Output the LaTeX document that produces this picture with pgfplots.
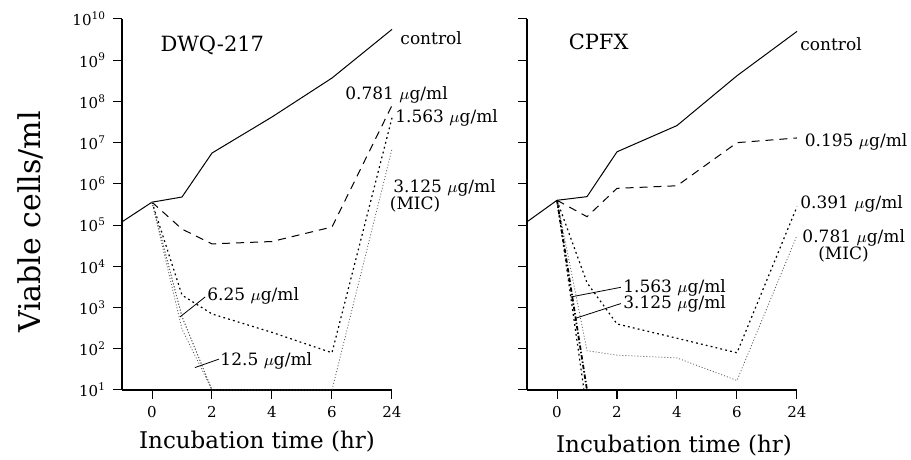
\documentclass[border=0pt]{standalone}
\usepackage{fontspec}
\setmainfont{DejaVu Serif}
\usepackage{pgfplots}
\pgfplotsset{compat=1.18}

\newcommand{\ug}{$\mu$g/ml}
\tikzset{
  lab/.style={font=\fontsize{8.5}{10}\selectfont, anchor=west, inner sep=0pt},
  mic/.style={font=\fontsize{8.5}{10}\selectfont, inner sep=0pt},
  ttl/.style={font=\fontsize{10.5}{12}\selectfont, anchor=west, inner sep=0pt},
  ctrl/.style={solid},
  dsh/.style={dash pattern=on 4pt off 3pt},
  dotd/.style={dash pattern=on 0.9pt off 1.6pt, line width=0.6pt},
  fine/.style={dash pattern=on 0.5pt off 1pt, line width=0.4pt, black!65},
  dd/.style={dash pattern=on 2.2pt off 1pt on 0.7pt off 1pt, line width=0.9pt},
}

\begin{document}
\begin{tikzpicture}
\useasboundingbox (0,0) rectangle (455.5pt,230pt);

% DWQ-217
\begin{axis}[at={(61pt,35pt)}, anchor=south west,
    scale only axis, width=135pt, height=185.5pt,
    ymode=log, ymin=10, ymax=1e10, xmin=-1, xmax=8,
    axis lines=left, axis line style={-, line width=0.6pt},
    tick align=outside, major tick length=4.5pt,
    tick style={black, line width=0.5pt},
    xtick={0,2,4,6,8}, xticklabels={0,2,4,6,24},
    ytick={1e1,1e2,1e3,1e4,1e5,1e6,1e7,1e8,1e9,1e10},
    yminorticks=false,
    ticklabel style={font=\fontsize{7.5}{9}\selectfont},
    xlabel={Incubation time (hr)},
    xlabel style={font=\fontsize{11.5}{13}\selectfont, at={(axis description cs:0.5,0)}, anchor=center, yshift=-26pt},
    clip=false,
    every axis plot/.append style={black, line width=0.5pt},
  yticklabels={10\textsuperscript{1},10\textsuperscript{2},10\textsuperscript{3},10\textsuperscript{4},10\textsuperscript{5},10\textsuperscript{6},10\textsuperscript{7},10\textsuperscript{8},10\textsuperscript{9},10\textsuperscript{10}}]
\addplot[ctrl] coordinates {(-1,1.2e5) (0,3.6e5) (1,4.8e5) (2,5.6e6) (4,4.2e7) (6,3.7e8) (8,5.6e9)};
\addplot[dsh] coordinates {(0,3.6e5) (1,8e4) (2,3.5e4) (4,4e4) (6,9e4) (8,8e7)};
\addplot[dotd] coordinates {(0,3.6e5) (1,2e3) (2,7e2) (4,2.5e2) (6,8e1) (8,4e7)};
\addplot[fine] coordinates {(0,3.6e5) (1,6e2) (2,10) (4,10) (6,10) (8,7e6)};
\addplot[fine] coordinates {(0,3.6e5) (1,6e2) (2,10)};
\addplot[fine] coordinates {(0,3.6e5) (1,3e2) (2,10)};

\node[ttl] at (axis cs:0.27,2.3e9) {DWQ-217};
\node[lab] at (axis cs:8.27,3.5e9) {control};
\node[lab] at (axis cs:6.43,1.45e8) {0.781 \ug};
\node[lab] at (axis cs:8.1,4e7) {1.563 \ug};
\node[lab] at (axis cs:8.03,7.9e5) {3.125 \ug};
\node[mic] at (axis cs:8.77,3.1e5) {(MIC)};
\node[lab] at (axis cs:1.83,1.9e3) {6.25 \ug};
\node[lab] at (axis cs:2.27,52) {12.5 \ug};
\draw[line width=0.4pt] (axis cs:0.93,5.9e2) -- (axis cs:1.77,1.8e3);
\draw[line width=0.4pt] (axis cs:1.43,35) -- (axis cs:2.23,56);
\end{axis}

% CPFX
\begin{axis}[at={(263.5pt,35pt)}, anchor=south west,
    scale only axis, width=135pt, height=185.5pt,
    ymode=log, ymin=10, ymax=1e10, xmin=-1, xmax=8,
    axis lines=left, axis line style={-, line width=0.6pt},
    tick align=outside, major tick length=4.5pt,
    tick style={black, line width=0.5pt},
    xtick={0,2,4,6,8}, xticklabels={0,2,4,6,24},
    ytick={1e1,1e2,1e3,1e4,1e5,1e6,1e7,1e8,1e9,1e10},
    yminorticks=false,
    ticklabel style={font=\fontsize{7.5}{9}\selectfont},
    xlabel={Incubation time (hr)},
    xlabel style={font=\fontsize{11.5}{13}\selectfont, at={(axis description cs:0.5,0)}, anchor=center, yshift=-28pt, xshift=6pt},
    clip=false,
    every axis plot/.append style={black, line width=0.5pt},
    yticklabels={}]
\addplot[ctrl] coordinates {(-1,1.2e5) (0,4e5) (1,4.9e5) (2,6e6) (4,2.6e7) (6,4.2e8) (8,5e9)};
\addplot[dsh] coordinates {(0,4e5) (1,1.6e5) (2,7.8e5) (4,9e5) (6,1e7) (8,1.3e7)};
\addplot[dotd] coordinates {(0,4e5) (1,4e3) (2,4e2) (4,1.8e2) (6,8e1) (8,2.8e5)};
\addplot[fine] coordinates {(0,4e5) (1,9e1) (2,7e1) (4,6e1) (6,1.7e1) (8,5.6e4)};
\addplot[dd] coordinates {(0,4e5) (1,10)};
\addplot[dotd] coordinates {(0,4e5) (0.9,10)};

\node[ttl] at (axis cs:0.38,2.8e9) {CPFX};
\node[lab] at (axis cs:8.1,2.5e9) {control};
\node[lab] at (axis cs:8.25,1.05e7) {0.195 \ug};
\node[lab] at (axis cs:8.1,3.3e5) {0.391 \ug};
\node[lab] at (axis cs:8.17,4.8e4) {0.781 \ug};
\node[mic] at (axis cs:9.55,1.9e4) {(MIC)};
\node[lab] at (axis cs:2.2,3e3) {1.563 \ug};
\node[lab] at (axis cs:2.2,1.25e3) {3.125 \ug};
\draw[line width=0.4pt] (axis cs:0.45,1.8e3) -- (axis cs:2.13,3.1e3);
\draw[line width=0.4pt] (axis cs:0.62,5.5e2) -- (axis cs:2.13,1.25e3);
\end{axis}

\node[rotate=90, font=\fontsize{15}{17}\selectfont] at (15pt,119pt) {Viable cells/ml};
\end{tikzpicture}
\end{document}
